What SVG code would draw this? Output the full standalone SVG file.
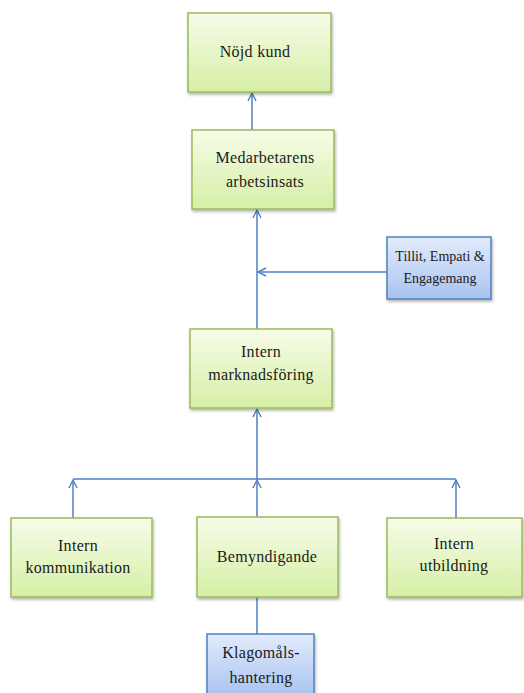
<svg xmlns="http://www.w3.org/2000/svg" width="524" height="693" viewBox="0 0 524 693">
<defs>
<linearGradient id="gGreen" x1="0" y1="0" x2="0" y2="1">
<stop offset="0" stop-color="#f6fce8"/>
<stop offset="1" stop-color="#d6efa6"/>
</linearGradient>
<linearGradient id="gBlue" x1="0" y1="0" x2="0" y2="1">
<stop offset="0" stop-color="#e2ebfb"/>
<stop offset="1" stop-color="#a8c3f0"/>
</linearGradient>
<filter id="sh" x="-10%" y="-10%" width="130%" height="130%">
<feDropShadow dx="1" dy="2" stdDeviation="1.5" flood-color="#000" flood-opacity="0.3"/>
</filter>
<marker id="arr" viewBox="0 0 10 10" refX="9" refY="5" markerWidth="10" markerHeight="10" markerUnits="userSpaceOnUse" orient="auto">
<path d="M1,1 L9,5 L1,9" fill="none" stroke="#4f81bd" stroke-width="1.4"/>
</marker>
</defs>
<style>
.g{fill:url(#gGreen);stroke:#9bbb59;stroke-width:1.5;filter:url(#sh)}
.b{fill:url(#gBlue);stroke:#4f81bd;stroke-width:1.5;filter:url(#sh)}
.t{font-family:"Liberation Serif","DejaVu Serif",serif;font-size:16px;fill:#1a1a1a;text-anchor:middle;letter-spacing:0.3px}
.ts{font-family:"Liberation Serif","DejaVu Serif",serif;font-size:14px;fill:#1a1a1a;text-anchor:middle}
.c{fill:none;stroke:#4f81bd;stroke-width:1.5}
</style>
<g id="connectors">
<line class="c" x1="252" y1="130" x2="252" y2="93" marker-end="url(#arr)"/>
<line class="c" x1="257" y1="329" x2="257" y2="210" marker-end="url(#arr)"/>
<line class="c" x1="387" y1="272" x2="258" y2="272" marker-end="url(#arr)"/>
<line class="c" x1="257" y1="479" x2="257" y2="409" marker-end="url(#arr)"/>
<line class="c" x1="73" y1="479" x2="456" y2="479"/>
<line class="c" x1="73" y1="518" x2="73" y2="480" marker-end="url(#arr)"/>
<line class="c" x1="257" y1="517" x2="257" y2="480" marker-end="url(#arr)"/>
<line class="c" x1="456" y1="518" x2="456" y2="480" marker-end="url(#arr)"/>
<line class="c" x1="257" y1="597" x2="257" y2="634"/>
</g>
<g id="nojd-kund">
<rect class="g" x="188" y="13" width="143" height="79"/>
<text class="t" x="255" y="57">Nöjd kund</text>
</g>
<g id="medarbetarens">
<rect class="g" x="192" y="130" width="142" height="79"/>
<text class="t" x="265" y="163">Medarbetarens</text>
<text class="t" x="265" y="187">arbetsinsats</text>
</g>
<g id="tillit">
<rect class="b" x="387" y="237" width="104" height="62"/>
<text class="ts" x="440" y="261">Tillit, Empati &amp;</text>
<text class="ts" x="440" y="283">Engagemang</text>
</g>
<g id="intern-marknadsforing">
<rect class="g" x="190" y="329" width="142" height="79"/>
<text class="t" x="261" y="357">Intern</text>
<text class="t" x="261" y="380">marknadsföring</text>
</g>
<g id="intern-kommunikation">
<rect class="g" x="11" y="518" width="141" height="79"/>
<text class="t" x="78" y="551">Intern</text>
<text class="t" x="78" y="573">kommunikation</text>
</g>
<g id="bemyndigande">
<rect class="g" x="197" y="517" width="141" height="80"/>
<text class="t" x="267" y="562">Bemyndigande</text>
</g>
<g id="intern-utbildning">
<rect class="g" x="387" y="518" width="135" height="79"/>
<text class="t" x="454" y="549">Intern</text>
<text class="t" x="454" y="571">utbildning</text>
</g>
<g id="klagomal">
<rect class="b" x="207" y="634" width="107" height="62"/>
<text class="t" x="261" y="658">Klagomåls-</text>
<text class="t" x="261" y="683">hantering</text>
</g>
</svg>
